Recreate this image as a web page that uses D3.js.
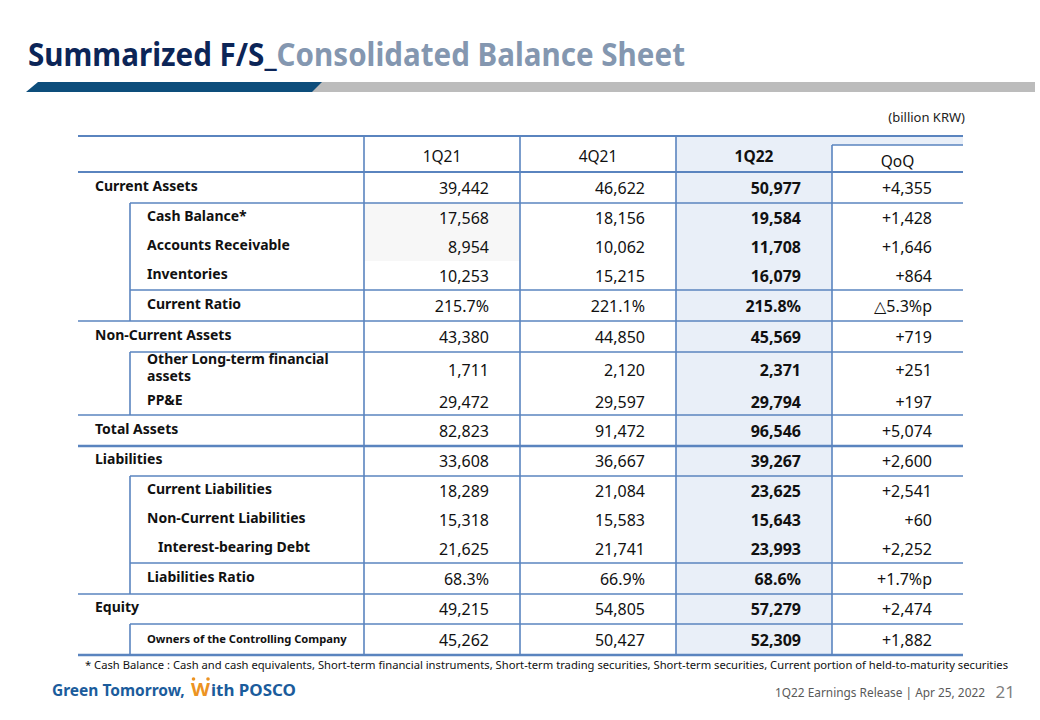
<!DOCTYPE html>
<html><head><meta charset="utf-8">
<script src="https://cdn.jsdelivr.net/npm/d3@7"></script>
<style>
html,body{margin:0;padding:0;background:#fff;}
svg{display:block;}
</style></head>
<body>
<svg id="c" width="1040" height="720"></svg>
<script>
// ---------- data ----------
const rowLabels = ["Current Assets","Cash Balance*","Accounts Receivable","Inventories","Current Ratio",
  "Non-Current Assets","Other Long-term financial|assets","PP&E","Total Assets","Liabilities",
  "Current Liabilities","Non-Current Liabilities","Interest-bearing Debt","Liabilities Ratio","Equity",
  "Owners of the Controlling Company"];
const rowLevels = [0,1,1,1,1,0,1,1,0,0,1,1,2,1,0,1];
const rowKinds  = ["n","n","n","n","p","n","n","n","n","n","n","n","n","p","n","n"];
const periods = ["1Q21","4Q21","1Q22","QoQ"];
const v1Q21 = [39442,17568,8954,10253,215.7,43380,1711,29472,82823,33608,18289,15318,21625,68.3,49215,45262];
const v4Q21 = [46622,18156,10062,15215,221.1,44850,2120,29597,91472,36667,21084,15583,21741,66.9,54805,50427];
const v1Q22 = [50977,19584,11708,16079,215.8,45569,2371,29794,96546,39267,23625,15643,23993,68.6,57279,52309];
const vQoQ  = [4355,1428,1646,864,-5.3,719,251,197,5074,2600,2541,60,2252,1.7,2474,1882];
// line below each row: "full", "indent", "thick" or ""
const rowRules = ["indent","","","indent","full","indent","","full","thick","indent","","","indent","full","indent","thick"];
const rowWeights = [31,29,29,29,31,31,36,27,31,30,29,29,29,31,30,31];

// ---------- layout ----------
const svg = d3.select("#c");
const lineC = "#5a84bf", fillC = "#e9eff8";
const FONT = "'Noto Sans', 'Open Sans', sans-serif";
const L = 78, IND = 130, R = 963, TOP = 136, HB = 172;

const fmt = d3.format(",");
const cols = [v1Q21, v4Q21, v1Q22, vQoQ];
function cellText(ci, ri) {
  const v = cols[ci][ri], k = rowKinds[ri];
  if (ci < 3) return k === "p" ? v.toFixed(1) + "%" : fmt(v);
  if (k === "p") return (v < 0 ? "\u25B3" + Math.abs(v).toFixed(1) : "+" + v.toFixed(1)) + "%p";
  return (v < 0 ? "-" : "+") + fmt(Math.abs(v));
}

const cum = [0]; rowWeights.forEach(w => cum.push(cum[cum.length-1] + w));
const y = d3.scaleLinear().domain([0, cum[cum.length-1]]).range([HB, 655]);
const x = d3.scaleBand().domain(periods).range([364, 988]);
const colRight = c => Math.min(x(c) + x.bandwidth(), R);

// ---------- title ----------
const t = svg.append("text").attr("x", 28).attr("y", 66)
  .attr("font-family", FONT).attr("font-weight", 700).attr("font-size", 32)
  .attr("textLength", 657).attr("lengthAdjust", "spacingAndGlyphs");
t.append("tspan").attr("fill", "#0c2557").text("Summarized F/S_");
t.append("tspan").attr("fill", "#8497b0").text("Consolidated Balance Sheet");

svg.append("path").attr("d", "M310,82 L1035,82 L1035,92 L300,92 Z").attr("fill", "#bcbcbc");
svg.append("path").attr("d", "M38,82 L322,82 L312,92 L26,92 Z").attr("fill", "#0d4d7b");

svg.append("text").attr("x", 965).attr("y", 122).attr("text-anchor", "end")
  .attr("font-family", FONT).attr("font-size", 13).attr("fill", "#222").text("(billion KRW)");

// ---------- fills ----------
svg.append("rect").attr("x", x("1Q22")).attr("y", TOP).attr("width", R - x("1Q22")).attr("height", 145 - TOP).attr("fill", fillC);
svg.append("rect").attr("x", x("1Q22")).attr("y", 145).attr("width", x.bandwidth()).attr("height", 655 - 145).attr("fill", fillC);
svg.append("rect").attr("x", x("1Q21")).attr("y", y(cum[1])).attr("width", x.bandwidth()).attr("height", y(cum[3]) - y(cum[1])).attr("fill", "#f7f7f7");

// ---------- header ----------
const g = svg.append("g");
periods.forEach((p, i) => {
  const cx = (x(p) + colRight(p)) / 2;
  g.append("text").attr("x", cx).attr("y", p === "QoQ" ? 167 : 162).attr("text-anchor", "middle")
    .attr("font-family", FONT).attr("font-size", 15.5).attr("font-weight", p === "1Q22" ? 700 : 400)
    .attr("fill", "#111").text(p);
});

// ---------- rows ----------
rowLabels.forEach((lab, i) => {
  const y0 = y(cum[i]), y1 = y(cum[i+1]), cy = (y0 + y1) / 2;
  const lev = rowLevels[i];
  const lx = lev === 0 ? 95 : lev === 1 ? 147 : 158;
  const small = lab.startsWith("Owners");
  const parts = lab.split("|");
  parts.forEach((pt, j) => {
    const ly = parts.length > 1 ? cy - 9 + j * 17 + 4 : cy + 4;
    g.append("text").attr("x", lx).attr("y", ly - 1)
      .attr("font-family", FONT).attr("font-weight", 700).attr("font-size", small ? 11.2 : 14)
      .attr("fill", "#111").text(pt);
  });
  periods.forEach((p, ci) => {
    g.append("text").attr("x", colRight(p) - 31).attr("y", cy + 6).attr("text-anchor", "end")
      .attr("font-family", FONT).attr("font-size", 16).attr("font-weight", p === "1Q22" ? 700 : 400)
      .attr("fill", "#111").text(cellText(ci, i));
  });
  const rule = rowRules[i];
  if (rule) {
    g.append("line").attr("x1", rule === "indent" ? IND : L).attr("x2", R).attr("y1", y1).attr("y2", y1)
      .attr("stroke", lineC).attr("stroke-width", rule === "thick" ? 2.4 : 1.6);
  }
  if (lev > 0) {
    g.append("line").attr("x1", IND).attr("x2", IND).attr("y1", y0).attr("y2", y1)
      .attr("stroke", lineC).attr("stroke-width", 1.6);
  }
});

// header rules
g.append("line").attr("x1", L).attr("x2", R).attr("y1", TOP).attr("y2", TOP).attr("stroke", lineC).attr("stroke-width", 2);
g.append("line").attr("x1", L).attr("x2", R).attr("y1", HB).attr("y2", HB).attr("stroke", lineC).attr("stroke-width", 2);
g.append("line").attr("x1", x("QoQ")).attr("x2", R).attr("y1", 145).attr("y2", 145).attr("stroke", lineC).attr("stroke-width", 1.6);
periods.forEach(p => {
  g.append("line").attr("x1", x(p)).attr("x2", x(p)).attr("y1", p === "QoQ" ? 145 : TOP).attr("y2", 655)
    .attr("stroke", lineC).attr("stroke-width", 1.6);
});

// ---------- footnote ----------
svg.append("text").attr("x", 85).attr("y", 669)
  .attr("font-family", FONT).attr("font-size", 11).attr("fill", "#111")
  .attr("textLength", 923).attr("lengthAdjust", "spacingAndGlyphs")
  .text("* Cash Balance : Cash and cash equivalents, Short-term financial instruments, Short-term trading securities, Short-term securities, Current portion of held-to-maturity securities");

// ---------- footer ----------
const logoFont = "'Noto Sans', sans-serif";
svg.append("text").attr("x", 52).attr("y", 696).attr("font-family", logoFont).attr("font-weight", 700)
  .attr("font-size", 15.5).attr("fill", "#1b5c9c").text("Green Tomorrow,");
svg.append("text").attr("x", 191).attr("y", 696).attr("font-family", logoFont).attr("font-weight", 700)
  .attr("font-size", 17).attr("fill", "#ec9322")
  .attr("textLength", 19).attr("lengthAdjust", "spacingAndGlyphs").text("W");
svg.selectAll("circle.dot").data([193.5, 208]).enter().append("circle")
  .attr("cx", d => d).attr("cy", 679).attr("r", 1.8).attr("fill", "#ec9322");
svg.append("text").attr("x", 211).attr("y", 696).attr("font-family", logoFont).attr("font-weight", 700)
  .attr("font-size", 16).attr("fill", "#1b5c9c")
  .attr("textLength", 85).attr("lengthAdjust", "spacingAndGlyphs").text("ith POSCO");

svg.append("text").attr("x", 985).attr("y", 697).attr("text-anchor", "end")
  .attr("font-family", FONT).attr("font-size", 12.5).attr("fill", "#595959")
  .attr("textLength", 210).attr("lengthAdjust", "spacingAndGlyphs")
  .text("1Q22 Earnings Release | Apr 25, 2022");
svg.append("text").attr("x", 1015).attr("y", 698).attr("text-anchor", "end")
  .attr("font-family", FONT).attr("font-size", 17).attr("fill", "#7f7f7f").text("21");
</script>
</body></html>
